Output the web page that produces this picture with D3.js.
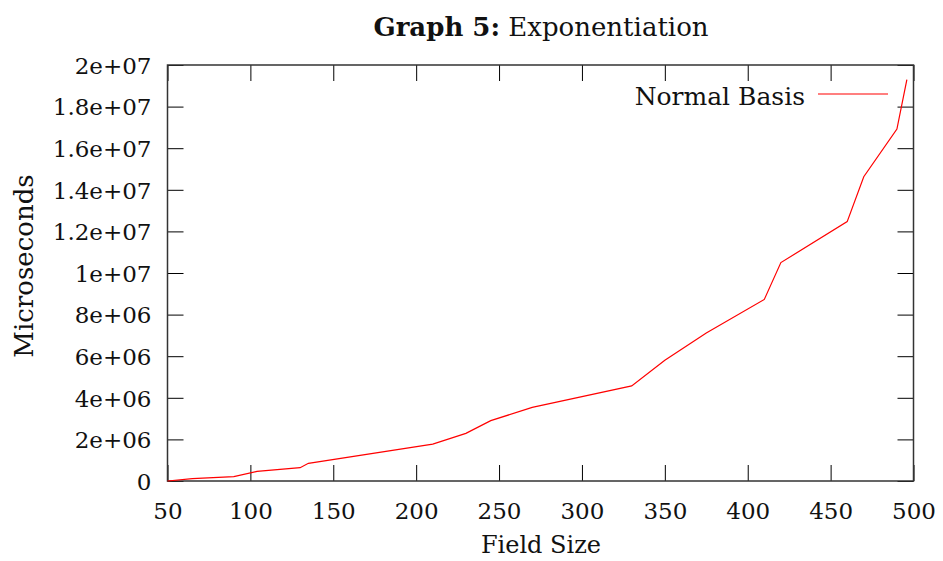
<!DOCTYPE html>
<html>
<head>
<meta charset="utf-8">
<script src="https://cdn.jsdelivr.net/npm/d3@7"></script>
<style>
  body { margin: 0; background: #fff; }
  svg text { font-family: 'DejaVu Serif', serif; fill: #111; }
</style>
</head>
<body>
<svg id="chart"></svg>
<script>
// field sizes and timings
const fieldSizes = [50, 65, 90, 104, 130, 135, 210, 230, 245, 270, 330, 350, 375, 410, 420, 460, 470, 490, 496]
const microseconds = [0, 0.11e6, 0.21e6, 0.46e6, 0.64e6, 0.85e6, 1.77e6, 2.29e6, 2.9e6, 3.54e6, 4.57e6, 5.8e6, 7.12e6, 8.73e6, 10.5e6, 12.47e6, 14.63e6, 16.92e6, 19.3e6]
const xTicks = [50, 100, 150, 200, 250, 300, 350, 400, 450, 500]
const yTicks = [0, 2e6, 4e6, 6e6, 8e6, 1e7, 1.2e7, 1.4e7, 1.6e7, 1.8e7, 2e7]
const yTickLabels = ['0', '2e+06', '4e+06', '6e+06', '8e+06', '1e+07', '1.2e+07', '1.4e+07', '1.6e+07', '1.8e+07', '2e+07']

const width = 943
const height = 561
const margin = { top: 65, right: 29.5, bottom: 80, left: 167.5 }
const plotW = width - margin.left - margin.right
const plotH = height - margin.top - margin.bottom

const svg = d3.select('#chart').attr('width', width).attr('height', height)

const x = d3.scaleLinear().domain([50, 500]).range([0, plotW])
const y = d3.scaleLinear().domain([0, 2e7]).range([plotH, 0])

const g = svg.append('g').attr('transform', `translate(${margin.left},${margin.top})`)

const tickLen = 16
const tickFont = 23
const labelFont = 26

// bottom axis (ticks inward)
const axBottom = g.append('g')
  .attr('transform', `translate(0,${plotH})`)
  .call(d3.axisBottom(x).tickValues(xTicks).tickSize(-tickLen).tickPadding(38).tickFormat(d3.format('d')))
// top axis mirror
const axTop = g.append('g')
  .call(d3.axisTop(x).tickValues(xTicks).tickSize(-tickLen).tickFormat(''))
// left axis
const axLeft = g.append('g')
  .call(d3.axisLeft(y).tickValues(yTicks).tickSize(-tickLen).tickPadding(16).tickFormat((d, i) => yTickLabels[i]))
// right axis mirror
const axRight = g.append('g')
  .attr('transform', `translate(${plotW},0)`)
  .call(d3.axisRight(y).tickValues(yTicks).tickSize(-tickLen).tickFormat(''))

;[axBottom, axTop, axLeft, axRight].forEach(a => {
  a.select('.domain').remove()
  a.selectAll('line').attr('stroke', '#000').attr('stroke-width', 1)
  a.selectAll('text')
    .style('font-family', "'DejaVu Serif', serif")
    .style('font-size', tickFont + 'px')
    .attr('fill', '#111')
})
axBottom.selectAll('text').attr('dy', '0')
axLeft.selectAll('text').attr('dy', '0.36em')

// frame
g.append('rect')
  .attr('x', 0).attr('y', 0)
  .attr('width', plotW).attr('height', plotH)
  .attr('fill', 'none')
  .attr('stroke', '#333')
  .attr('stroke-width', 1.5)

// data line
const data = fieldSizes.map((f, i) => ({ f, v: microseconds[i] }))
g.append('path')
  .datum(data)
  .attr('fill', 'none')
  .attr('stroke', '#ff0000')
  .attr('stroke-width', 1.2)
  .attr('d', d3.line().x(d => x(d.f)).y(d => y(d.v)))

// legend
g.append('text')
  .attr('x', 805 - margin.left)
  .attr('y', 105 - margin.top)
  .attr('text-anchor', 'end')
  .style('font-size', '25px')
  .text('Normal Basis')
g.append('line')
  .attr('x1', 818 - margin.left).attr('x2', 888 - margin.left)
  .attr('y1', 94 - margin.top).attr('y2', 94 - margin.top)
  .attr('stroke', '#ff0000')
  .attr('stroke-width', 1.2)

// title
const title = svg.append('text')
  .attr('x', 541)
  .attr('y', 36)
  .attr('text-anchor', 'middle')
  .style('font-size', labelFont + 'px')
title.append('tspan').style('font-weight', 'bold').text('Graph 5:')
title.append('tspan').text(' Exponentiation')

// axis titles
svg.append('text')
  .attr('x', 541)
  .attr('y', 553)
  .attr('text-anchor', 'middle')
  .style('font-size', '24px')
  .text('Field Size')

svg.append('text')
  .attr('transform', `translate(33,266) rotate(-90)`)
  .attr('text-anchor', 'middle')
  .style('font-size', labelFont + 'px')
  .text('Microseconds')
</script>
</body>
</html>
